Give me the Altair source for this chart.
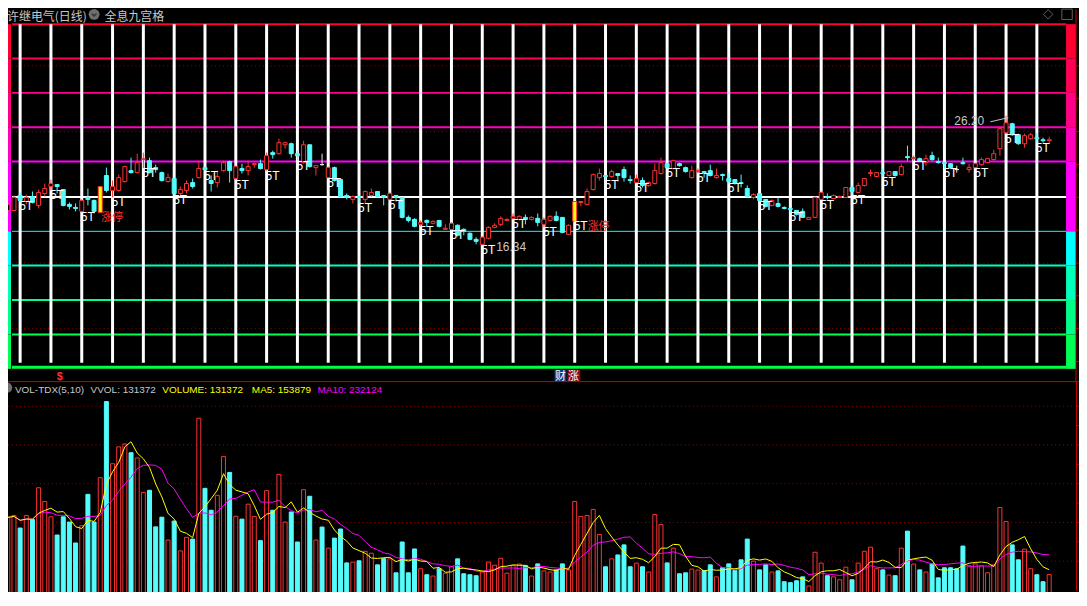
import altair as alt
import numpy as np
import pandas as pd

W, H = 1076, 584

# ---------------- data ----------------
# candle kind: U = up (hollow red), D = down (cyan), F = flat doji, L = limit-up (yellow)
kinds = list("UUDUDUUUDD" "DDUDDLDUUU" "DUUDDDUDUU" "DUDDUUDUDU" "UDUDUUDDUD"
             "UFUDDDUDUU" "DDUDDDDUDU" "DUUDDDDUUU" "UUUUDUDUUD" "DULUUUUDUD"
             "DDUDUUUDUD" "DUUDDUDDDD" "DUDDUDDDDD" "UUUDUUUDUU" "UUDUDUDUDU"
             "DDDDFDUUUU" "UUUDDUUDDU")

open_ = [19.00, 19.00, 20.14, 19.68, 20.06, 19.38, 20.29, 20.82, 20.97, 20.59,
         19.46, 19.23, 18.93, 19.99, 19.76, 18.85, 21.66, 20.52, 20.52, 21.20,
         22.03, 21.88, 22.87, 22.79, 22.26, 21.88, 21.20, 21.43, 20.29, 20.52,
         21.12, 21.50, 22.26, 21.28, 21.12, 22.03, 22.72, 21.43, 22.19, 22.03,
         22.49, 22.56, 22.11, 23.40, 23.32, 24.00, 24.08, 23.32, 22.64, 24.00,
         22.26, 22.49, 21.50, 22.26, 21.35, 20.14, 19.84, 20.06, 19.84, 20.14,
         20.44, 20.14, 19.84, 20.14, 19.99, 18.47, 18.32, 17.94, 18.24, 18.02,
         18.24, 17.56, 17.56, 17.87, 17.56, 17.26, 16.80, 16.42, 16.88, 17.71,
         17.94, 18.24, 18.40, 18.32, 18.47, 18.32, 18.40, 17.94, 18.24, 18.55,
         18.47, 17.18, 18.17, 19.61, 19.46, 20.59, 21.50, 21.66, 21.58, 21.81,
         22.11, 21.35, 21.12, 21.28, 20.90, 21.05, 21.81, 22.56, 22.19, 22.56,
         22.26, 21.50, 21.96, 21.96, 22.03, 21.50, 21.73, 21.43, 21.35, 21.12,
         20.67, 19.99, 20.29, 19.84, 19.38, 19.53, 19.23, 19.15, 19.00, 18.93,
         18.32, 18.47, 19.84, 20.06, 19.91, 19.99, 19.99, 20.75, 20.37, 20.90,
         21.81, 21.58, 21.88, 21.66, 21.96, 21.73, 23.10, 22.94, 22.94, 22.64,
         23.17, 22.72, 22.64, 22.56, 22.11, 22.64, 22.11, 22.26, 22.49, 22.64,
         22.87, 23.70, 24.91, 25.60, 24.76, 24.08, 24.46, 24.54, 24.38, 24.31]

close = [19.46, 19.99, 19.76, 19.99, 19.61, 20.37, 20.67, 21.05, 20.82, 19.38,
         19.31, 19.15, 19.76, 19.84, 18.93, 20.82, 20.52, 20.82, 21.50, 22.34,
         21.88, 22.64, 22.94, 21.88, 22.11, 21.28, 21.50, 20.29, 20.59, 21.05,
         20.82, 22.19, 22.11, 21.05, 21.58, 22.64, 22.03, 22.34, 22.03, 22.34,
         22.56, 22.19, 23.17, 23.25, 24.16, 24.16, 23.32, 23.17, 24.00, 22.34,
         22.41, 22.49, 22.26, 21.28, 20.06, 19.99, 20.06, 19.99, 20.44, 20.37,
         20.06, 19.99, 20.29, 19.99, 18.47, 18.24, 17.79, 18.09, 18.09, 18.17,
         17.79, 17.64, 18.02, 17.11, 17.41, 16.80, 16.65, 16.96, 17.71, 17.87,
         18.40, 18.32, 18.55, 18.55, 18.32, 18.47, 18.09, 18.32, 18.55, 18.24,
         17.33, 17.87, 19.68, 19.68, 20.44, 21.73, 21.81, 21.58, 21.96, 21.66,
         21.50, 21.28, 21.43, 20.90, 21.12, 22.03, 22.64, 22.26, 22.79, 22.41,
         21.96, 22.03, 22.03, 21.88, 21.66, 21.66, 21.66, 21.20, 21.05, 21.05,
         20.06, 20.21, 19.76, 19.31, 19.76, 19.31, 19.15, 19.08, 18.70, 18.47,
         18.47, 19.99, 20.37, 19.99, 20.14, 20.06, 20.75, 20.44, 20.90, 21.43,
         21.88, 21.88, 21.81, 21.96, 21.66, 22.34, 23.02, 23.02, 22.72, 22.94,
         22.87, 22.64, 22.56, 22.26, 22.11, 22.56, 22.26, 22.56, 22.87, 22.94,
         23.32, 25.22, 25.67, 24.76, 24.08, 24.69, 24.76, 24.46, 24.31, 24.38]

high = [19.61, 20.14, 20.37, 20.21, 20.44, 20.59, 21.05, 21.35, 20.97, 20.59,
        19.61, 19.53, 19.84, 20.67, 19.84, 20.82, 22.26, 21.28, 21.73, 22.41,
        23.02, 23.32, 23.40, 23.02, 22.49, 21.96, 21.81, 21.50, 20.82, 21.28,
        21.43, 22.79, 22.34, 21.66, 22.03, 22.79, 22.79, 22.41, 22.56, 22.79,
        22.64, 22.87, 23.40, 23.55, 24.46, 24.23, 24.16, 23.55, 24.31, 24.00,
        22.41, 23.32, 22.34, 22.34, 21.35, 20.29, 20.14, 20.06, 20.52, 20.67,
        20.44, 20.14, 20.37, 20.14, 19.99, 18.62, 18.40, 18.24, 18.32, 18.24,
        18.24, 17.94, 18.09, 17.94, 17.64, 17.33, 16.96, 17.03, 17.79, 18.02,
        18.55, 18.40, 18.77, 18.62, 18.70, 18.55, 18.77, 18.47, 18.62, 18.93,
        18.47, 17.94, 19.68, 19.68, 20.67, 21.81, 22.19, 21.66, 22.11, 21.81,
        22.34, 21.66, 21.73, 21.50, 21.20, 22.56, 23.02, 22.64, 22.87, 22.64,
        22.34, 22.41, 22.19, 21.96, 22.49, 22.19, 21.81, 21.88, 21.35, 21.73,
        20.90, 20.29, 20.29, 19.84, 19.84, 19.99, 19.31, 19.23, 19.00, 19.15,
        18.47, 20.06, 20.44, 20.29, 20.21, 20.14, 20.75, 20.90, 21.12, 21.43,
        22.11, 21.88, 22.19, 21.96, 21.96, 22.56, 23.93, 23.17, 23.02, 23.25,
        23.47, 23.02, 22.72, 22.56, 22.41, 23.02, 22.56, 22.64, 23.02, 22.94,
        23.63, 25.37, 26.20, 25.67, 24.84, 24.84, 24.91, 24.91, 24.54, 24.61]

low = [18.93, 18.93, 19.68, 19.46, 19.53, 19.15, 20.06, 20.52, 20.29, 19.31,
       19.08, 18.93, 18.85, 19.38, 18.77, 18.85, 20.37, 19.99, 20.44, 21.12,
       21.81, 21.81, 22.19, 21.81, 21.88, 21.20, 21.12, 20.21, 20.14, 20.29,
       20.67, 21.43, 22.03, 20.44, 20.75, 21.96, 21.12, 21.35, 21.81, 21.66,
       22.26, 22.11, 22.03, 22.94, 23.25, 23.70, 23.02, 22.79, 22.56, 22.26,
       21.66, 22.41, 21.43, 21.20, 19.99, 19.84, 19.53, 19.53, 19.53, 20.06,
       19.99, 19.38, 19.76, 19.68, 18.40, 18.09, 17.71, 17.79, 17.79, 17.94,
       17.71, 17.56, 17.49, 17.03, 17.11, 16.73, 16.42, 16.34, 16.80, 17.64,
       17.79, 18.17, 18.32, 18.24, 17.94, 18.24, 17.79, 17.71, 18.17, 18.17,
       17.26, 17.11, 18.17, 19.31, 19.38, 20.52, 21.28, 21.28, 21.50, 21.20,
       21.20, 21.05, 21.05, 20.75, 20.82, 20.97, 21.73, 22.19, 22.11, 22.34,
       21.88, 21.43, 21.81, 21.50, 21.58, 21.43, 21.28, 21.05, 20.97, 20.75,
       19.99, 19.84, 19.68, 19.23, 19.31, 19.23, 19.08, 18.85, 18.62, 18.47,
       18.32, 18.47, 19.76, 19.84, 19.91, 19.99, 19.99, 20.14, 20.37, 20.82,
       21.58, 21.50, 21.58, 21.66, 21.58, 21.66, 22.79, 22.79, 22.72, 22.41,
       22.79, 22.56, 22.19, 22.26, 21.88, 22.49, 21.88, 22.19, 22.41, 22.64,
       22.79, 23.17, 24.84, 24.69, 24.00, 23.78, 24.38, 24.16, 24.16, 24.08]

volume = [426000, 436000, 371000, 436000, 415000, 579000, 508000, 429000, 335000, 429000,
          402000, 294000, 383000, 545000, 402000, 631000, 1024000, 703000, 790000, 805000,
          760000, 733000, 555000, 566000, 377000, 427000, 309000, 407000, 253000, 323000,
          314000, 938000, 576000, 463000, 540000, 740000, 658000, 432000, 417000, 494000,
          431000, 306000, 564000, 463000, 648000, 402000, 454000, 299000, 569000, 535000,
          309000, 376000, 267000, 319000, 366000, 191000, 195000, 202000, 251000, 241000,
          181000, 213000, 212000, 140000, 299000, 140000, 263000, 161000, 130000, 123000,
          161000, 138000, 172000, 212000, 135000, 130000, 125000, 144000, 195000, 179000,
          215000, 138000, 177000, 185000, 177000, 123000, 186000, 150000, 144000, 155000,
          186000, 155000, 508000, 431000, 436000, 467000, 338000, 171000, 212000, 232000,
          284000, 171000, 190000, 171000, 144000, 441000, 390000, 191000, 267000, 135000,
          140000, 159000, 154000, 152000, 181000, 119000, 166000, 186000, 152000, 207000,
          314000, 200000, 155000, 181000, 144000, 150000, 94000, 89000, 99000, 119000,
          72000, 246000, 190000, 125000, 119000, 104000, 169000, 104000, 190000, 251000,
          272000, 161000, 155000, 128000, 125000, 267000, 355000, 185000, 155000, 144000,
          186000, 114000, 166000, 166000, 161000, 278000, 176000, 186000, 176000, 140000,
          181000, 477000, 405000, 284000, 207000, 262000, 161000, 130000, 94000, 131372]

# nine-grid price levels and colours
grid_levels = [33.18, 30.56, 27.95, 25.33, 22.72, 20.03, 17.41, 14.80, 12.18, 9.56, 7.06]
grid_colors = ["#ff0033", "#ff0055", "#ff0088", "#ff00bb", "#ff00ff", "#ffffff",
               "#00ffff", "#00ffbb", "#00ff88", "#00ff55", "#00ff44"]
grid_widths = [2, 2, 2, 2, 2, 2, 1, 2, 2, 2, 3]
band_top = [33.18, 30.56, 27.95, 25.33, 22.72, 17.41, 14.80, 12.18, 9.56]
band_bot = [30.56, 27.95, 25.33, 22.72, 17.41, 14.80, 12.18, 9.56, 6.94]
band_colors = ["#ff0033", "#ff0055", "#ff0088", "#ff00bb", "#ff00ff",
               "#00ffff", "#00ffbb", "#00ff88", "#00ff55"]
price_grid = [10, 15, 25, 30]
price_ticks = [7.5, 10, 12.5, 15, 17.5, 20, 22.5, 25, 27.5, 30]
vol_grid = [200000, 400000, 600000, 800000, 1000000]
vol_ticks_major = [200000, 400000, 600000, 800000, 1000000]
vol_ticks_minor = [300000, 500000, 700000, 900000]

# ---------------- styling ----------------
RED = "#ff3232"
CYAN = "#54fcfc"
WHITE = "#ffffff"
YELLOW = "#ffff00"
MAG = "#ff00ff"
AXRED = "#c80000"
DOT = "#9a0000"
GRAY = "#c8c8c8"
CJK = "Noto Sans CJK SC"
SANS = "Liberation Sans, Arial, sans-serif"

df = pd.DataFrame({"i": np.arange(len(kinds)), "kind": kinds, "o": open_, "h": high,
                   "l": low, "c": close, "vol": volume})
df["tag"] = np.where((df["i"] - 2) % 5 == 0, "5T", "")

xs = alt.Scale(domain=[0, 169], range=[-5.2, 1051.05], nice=False, zero=False)
yp = alt.Scale(domain=[16.35, 26.20], range=[237, 107], nice=False, zero=False)
yv = alt.Scale(domain=[0, 1000000], range=[593.3, 398.7], nice=False, zero=False)
X = alt.X("i:Q", scale=xs, axis=None)

base = alt.Chart(df)
one = pd.DataFrame({"k": [0]})
layers = []


def px_rule(x1, x2, y1, y2, color, w=1, **kw):
    return alt.Chart(one).mark_rule(color=color, strokeWidth=w, **kw).encode(
        x=alt.value(x1), x2=alt.value(x2), y=alt.value(y1), y2=alt.value(y2))


def px_text(text, x, y, color, size=12, font=SANS, align="left", weight="normal"):
    return alt.Chart(one).mark_text(text=text, align=align, baseline="alphabetic",
                                    color=color, fontSize=size, font=font,
                                    fontWeight=weight).encode(x=alt.value(x), y=alt.value(y))


# colour bars left and right
bands = pd.DataFrame({"top": band_top, "bot": band_bot, "col": band_colors})
for x1, x2 in [(-7, 3), (1063, 1073)]:
    layers.append(alt.Chart(bands).mark_rect().encode(
        x=alt.value(x1), x2=alt.value(x2),
        y=alt.Y("top:Q", scale=yp, axis=None), y2="bot:Q",
        color=alt.Color("col:N", scale=None)))

# dotted grids (under everything else)
layers.append(alt.Chart(pd.DataFrame({"lvl": price_grid})).mark_rule(
    color=DOT, strokeDash=[1, 3], strokeWidth=1).encode(
    x=alt.value(4), x2=alt.value(1063), y=alt.Y("lvl:Q", scale=yp, axis=None)))
layers.append(alt.Chart(pd.DataFrame({"lvl": vol_grid})).mark_rule(
    color=DOT, strokeDash=[1, 3], strokeWidth=1).encode(
    x=alt.value(0), x2=alt.value(1072), y=alt.Y("lvl:Q", scale=yv, axis=None)))

# nine-grid horizontal lines
grid = pd.DataFrame({"lvl": grid_levels, "col": grid_colors, "w": grid_widths})
layers.append(alt.Chart(grid).mark_rule().encode(
    x=alt.value(4), x2=alt.value(1063),
    y=alt.Y("lvl:Q", scale=yp, axis=None),
    color=alt.Color("col:N", scale=None),
    strokeWidth=alt.StrokeWidth("w:Q", scale=None)))

# weekly white vertical lines
wk = base.transform_filter(alt.datum.tag == "5T")
layers.append(wk.mark_rule(color=WHITE, strokeWidth=3).encode(
    x=X, y=alt.value(15), y2=alt.value(355)))

# candles
styles = {"U": ("#000000", RED), "D": (CYAN, CYAN), "F": ("#000000", "#e8e8e8"),
          "L": (YELLOW, RED)}
for k, (fill, stroke) in styles.items():
    sub = base.transform_filter(alt.datum.kind == k)
    layers.append(sub.mark_rule(color=stroke, strokeWidth=1).encode(
        x=X, y=alt.Y("l:Q", scale=yp, axis=None), y2="h:Q"))
    layers.append(sub.mark_bar(size=4, fill=fill, stroke=stroke, strokeWidth=1).encode(
        x=X, y=alt.Y("o:Q", scale=yp, axis=None), y2="c:Q"))

# 5T labels
layers.append(wk.mark_text(text="5T", align="left", baseline="alphabetic", dx=-1, dy=9,
                           color=WHITE, fontSize=12, font=SANS).encode(
    x=X, y=alt.Y("l:Q", scale=yp, axis=None)))
# limit-up labels (placed after a 5T tag when the candle carries one)
layers.append(base.transform_filter("datum.kind == 'L' && datum.tag != '5T'").mark_text(
    text="涨停", align="left", baseline="alphabetic", dx=1, dy=9, color=RED,
    fontSize=11, font=CJK).encode(x=X, y=alt.Y("l:Q", scale=yp, axis=None)))
layers.append(base.transform_filter("datum.kind == 'L' && datum.tag == '5T'").mark_text(
    text="涨停", align="left", baseline="alphabetic", dx=13, dy=9, color=RED,
    fontSize=11, font=CJK).encode(x=X, y=alt.Y("l:Q", scale=yp, axis=None)))
# extreme labels
layers.append(base.transform_filter(alt.datum.h == max(high)).mark_text(
    text="26.20", align="right", baseline="alphabetic", dx=-22, dy=9, color=GRAY,
    fontSize=12, font=SANS).encode(x=X, y=alt.Y("h:Q", scale=yp, axis=None)))
layers.append(base.transform_filter(alt.datum.l == min(low)).mark_text(
    text="16.34", align="left", baseline="alphabetic", dx=14, dy=6, color=GRAY,
    fontSize=12, font=SANS).encode(x=X, y=alt.Y("l:Q", scale=yp, axis=None)))
layers.append(px_rule(987, 1004, 113, 109, GRAY, 1))
layers.append(alt.Chart(one).mark_point(shape="triangle-right", filled=True, color=GRAY,
                                        size=14, angle=345).encode(
    x=alt.value(1004), y=alt.value(109)))

# volume bars
vup = base.transform_filter("datum.kind == 'U' || datum.kind == 'L'")
vdn = base.transform_filter("datum.kind == 'D' || datum.kind == 'F'")
layers.append(vup.mark_bar(size=4, fill="#000000", stroke=RED, strokeWidth=1).encode(
    x=X, y=alt.Y("vol:Q", scale=yv, axis=None), y2=alt.datum(0)))
layers.append(vdn.mark_bar(size=4, fill=CYAN, stroke=CYAN, strokeWidth=1).encode(
    x=X, y=alt.Y("vol:Q", scale=yv, axis=None), y2=alt.datum(0)))

# moving averages
ma = base.transform_window(ma5="mean(vol)", frame=[-4, 0], sort=[{"field": "i"}]) \
         .transform_window(ma10="mean(vol)", frame=[-9, 0], sort=[{"field": "i"}])
layers.append(ma.mark_line(color=MAG, strokeWidth=1).encode(
    x=X, y=alt.Y("ma10:Q", scale=yv, axis=None)))
layers.append(ma.mark_line(color=YELLOW, strokeWidth=1).encode(
    x=X, y=alt.Y("ma5:Q", scale=yv, axis=None)))

# frame / axes
layers.append(px_rule(1073, 1073, 0, 374, AXRED, 1))
layers.append(alt.Chart(pd.DataFrame({"lvl": price_ticks})).mark_rule(
    color=AXRED, strokeWidth=1).encode(x=alt.value(1073), x2=alt.value(1078),
                                       y=alt.Y("lvl:Q", scale=yp, axis=None)))
layers.append(px_rule(0, W, 374, 374, AXRED, 1))
layers.append(px_rule(1073.5, 1073.5, 374, H, AXRED, 1))
layers.append(alt.Chart(pd.DataFrame({"lvl": vol_ticks_major})).mark_rule(
    color=AXRED, strokeWidth=1).encode(x=alt.value(1073.5), x2=alt.value(1079),
                                       y=alt.Y("lvl:Q", scale=yv, axis=None)))
layers.append(alt.Chart(pd.DataFrame({"lvl": vol_ticks_minor})).mark_rule(
    color=AXRED, strokeWidth=1).encode(x=alt.value(1073.5), x2=alt.value(1076.5),
                                       y=alt.Y("lvl:Q", scale=yv, axis=None)))

# strip under the price panel
layers.append(px_text("$", 49, 372, RED, 11, SANS, weight="bold"))
layers.append(alt.Chart(one).mark_rect(color="#0a3c8c").encode(
    x=alt.value(549), x2=alt.value(561), y=alt.value(362), y2=alt.value(374)))
layers.append(alt.Chart(one).mark_rect(color="#8c0a0a").encode(
    x=alt.value(562), x2=alt.value(575), y=alt.value(362), y2=alt.value(374)))
layers.append(px_text("财", 549.5, 372, WHITE, 11, CJK))
layers.append(px_text("涨", 562.5, 372, WHITE, 11, CJK))

# title row
layers.append(px_text("许继电气(日线)", -1, 12, GRAY, 12, CJK))
layers.append(alt.Chart(one).mark_point(shape="circle", filled=True, color="#6e6e6e",
                                        size=120, opacity=1).encode(
    x=alt.value(86.5), y=alt.value(5)))
layers.append(alt.Chart(one).mark_point(shape="M-1,-0.45L0,0.45L1,-0.45", filled=False,
                                        color="#1e1e1e", size=22, strokeWidth=1.6).encode(
    x=alt.value(86.5), y=alt.value(5.5)))
layers.append(px_text("全息九宫格", 97, 12, GRAY, 12, CJK))
layers.append(alt.Chart(one).mark_point(shape="diamond", filled=False, color="#8a8a8a",
                                        size=90, strokeWidth=1).encode(
    x=alt.value(1045), y=alt.value(5)))
layers.append(alt.Chart(one).mark_point(shape="square", filled=False, color="#8a8a8a",
                                        size=110, strokeWidth=1).encode(
    x=alt.value(1064), y=alt.value(5)))

# volume header
layers.append(alt.Chart(one).mark_point(shape="circle", filled=True, color="#6e6e6e",
                                        size=110, opacity=1).encode(
    x=alt.value(-1), y=alt.value(380)))
layers.append(px_text("VOL-TDX(5,10)", 7, 385, GRAY, 10, SANS))
layers.append(px_text("VVOL: 131372", 83, 385, GRAY, 10, SANS))
layers.append(px_text("VOLUME: 131372", 155, 385, YELLOW, 10, SANS))
layers.append(px_text("MA5: 153879", 245, 385, YELLOW, 10, SANS))
layers.append(px_text("MA10: 232124", 311, 385, MAG, 10, SANS))

chart = alt.layer(*layers).resolve_scale(y="independent").properties(
    width=W, height=H, padding=0, background="#000000",
    autosize=alt.AutoSizeParams(type="none"),
).configure_view(stroke=None)

chart.save("out.html", embed_options={"renderer": "svg", "actions": False})
